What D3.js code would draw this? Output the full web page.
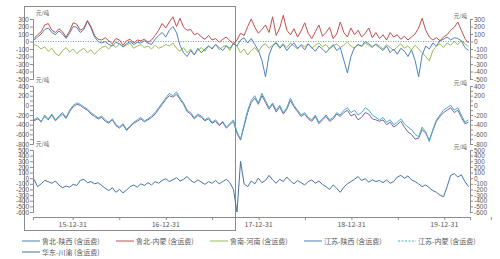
<!DOCTYPE html>
<html>
<head>
<meta charset="utf-8">
<script src="https://cdn.jsdelivr.net/npm/d3@7"></script>
<style>
body { margin: 0; background: #fff; }
svg { font-family: "Noto Sans CJK SC", "Noto Sans", sans-serif; }
</style>
</head>
<body>
<div id="chart"></div>
<script>
// categories: one point every two weeks
const startDate = new Date(2015, 7, 1);
const stepDays = 14;
const xTickLabels = ["15-12-31", "16-12-31", "17-12-31", "18-12-31", "19-12-31"];
const unitLabel = "元/吨";

// panel 1
const luBeiShaanxi = [20, 60, 100, 160, 180, 120, 90, 140, 100, 40,
    110, 200, 190, 120, 160, 270, 180, 60, 0, -20,
    0, -40, -60, -10, -30, -70, -30, 0, -40, -10,
    -20, 10, -20, -40, 30, 80, 120, 60, 150, 200,
    120, -50, -150, -200, -120, -180, -90, -150, -100, -60,
    -100, -40, -80, -120, -60, -90, -30, -60, 20, 50,
    -20, 40, -40, -120, -250, -470, -180, -60, -20, -90,
    -40, -120, -60, -20, -90, -50, -110, -30, -80, -130,
    -60, -100, -150, -90, -40, -120, -80, -250, -420, -200,
    -80, -40, -60, 0, -30, -70, -40, -80, -120, -60,
    -150, -100, -170, -90, -130, -200, -110, -250, -470, -180,
    -60, -100, -20, -60, 10, 30, 60, 20, 50, 40,
    10, -80, -120];
const luBeiNeimeng = [40, 90, 130, 220, 240, 150, 120, 170, 130, 60,
    140, 250, 230, 150, 180, 280, 200, 80, 30, 20,
    50, 10, -30, 40, 20, -50, 10, 30, -20, 20,
    10, 30, -10, 20, 80, 150, 240, 180, 260, 330,
    200, 310, 190, 150, 160, 90, 110, 60, 30, 80,
    20, 40, -10, 30, 60, 10, -30, 20, 110, 80,
    200, 300, 190, 110, 160, 220, 120, 330, 80, 180,
    350, 150, 90, 170, 60, 140, 250, 110, 40, 130,
    220, 70, 120, 190, 40, 100, 260, 120, 60, 180,
    90, 150, 60, 110, 180, 50, 120, 40, 90, 20,
    120, 60, 90, 30, 70, 20, 60, 100, 180, 310,
    150, 60, 20, 50, 10, 60, 90, 150, 190, 260,
    150, 40, -20];
const luNanHenan = [-40, -60, -100, -70, -130, -90, -160, -190, -120, -80,
    -140, -100, -160, -120, -90, -150, -110, -170, -120, -80,
    -60, -100, -40, -80, -30, -70, -50, -20, -90, -60,
    -40, -80, -60, -100, -50, -90, -70, -40, -60, -20,
    -90, -130, -80, -150, -100, -170, -120, -80, -130, -60,
    -90, -40, -110, -70, -50, -120, -20, -60, -150, -100,
    -180, -120, -80, -140, -60, -30, -90, -50, -10, -70,
    -30, -80, -20, -60, -100, -40, -70, -30, -90, -50,
    -20, -70, -40, -100, -60, -30, -80, -50, -10, -60,
    -90, -40, -70, -20, -50, -80, -30, -60, -100, -40,
    -80, -120, -70, -30, -90, -60, -110, -50, -100, -150,
    -200, -260, -120, -60, -30, -80, -20, -50, 0, -40,
    10, -30, -70];

// panel 2
const jiangsuShaanxi = [-320, -280, -330, -230, -300, -200, -320, -250, -180, -270,
    -130, -30, 20, 0, -60, -100, -180, -230, -280, -250,
    -330, -370, -300, -420, -470, -400, -520, -440, -370, -330,
    -280, -340, -300, -250, -180, -80, 20, 120, 200, 170,
    230, 120, 20, -130, -180, -280, -210, -250, -320, -280,
    -370, -330, -420, -350, -470, -400, -330, -580, -720, -430,
    -150, 60, 150, 20, 200, 60, -80, 20, -140, -30,
    -180, -80, 100, -30, -130, -230, -180, -280, -330, -230,
    -380, -300, -230, -330, -280, -180, -230, -150, -100, -220,
    -180, -300, -250, -150, -180, -280, -300, -330, -300, -400,
    -350, -450, -400, -330, -450, -550, -600, -700, -680, -500,
    -580, -720, -520, -330, -230, -150, -100, -50, -150, -100,
    -250, -380, -350];
const jiangsuNeimeng = [-300, -250, -350, -200, -280, -180, -300, -220, -150, -250,
    -100, 0, 50, 20, -30, -80, -150, -200, -260, -220,
    -300, -350, -280, -400, -450, -380, -500, -420, -350, -300,
    -250, -320, -280, -220, -150, -50, 50, 150, 250, 200,
    280, 150, 50, -100, -150, -250, -180, -220, -300, -250,
    -350, -300, -400, -330, -450, -380, -300, -550, -700, -400,
    -100, 100, 200, 50, 250, 100, -50, 50, -100, 0,
    -150, -50, 150, 0, -100, -200, -150, -250, -300, -200,
    -350, -280, -200, -300, -250, -150, -200, -100, -50, -150,
    -100, -200, -150, -50, -100, -200, -250, -300, -250, -350,
    -300, -400, -350, -280, -380, -450, -500, -600, -650, -450,
    -550, -750, -500, -300, -200, -100, -50, 0, -100, -50,
    -200, -350, -300];

// panel 3
const huadongChuanyu = [-20, -150, -100, -40, -60, -90, -50, -120, -170, -140,
    -160, -110, -130, -40, -20, -80, -60, -100, -80, -130,
    -180, -220, -170, -250, -200, -260, -210, -150, -120, -160,
    -100, -130, -80, -120, -60, -90, -40, -10, -60, -30,
    10, -50, -20, 30, -40, -80, -30, -70, -110, -60,
    -90, -40, -100, -60, -20, -80, -200, -600, 300, -100,
    -150, -50, -100, 0, -80, -40, 50, -30, -90, -20,
    -60, 20, -50, -100, -40, -80, -120, -60, -30, -90,
    -50, -110, -150, -200, -120, -180, -250, -160, -100, -60,
    -20, 30, -40, -10, -70, -30, -60, -40, -80, -30,
    -90, -60, 20, 50, 0, 40, -30, -60, -100, -150,
    -120, -170, -220, -250, -300, -330, -150, 50, 80, 20,
    60, -60, -150];

const panel1Ticks = [300, 200, 100, 0, -100, -200, -300, -400, -500];
const panel2Ticks = [400, 300, 200, 100, 0, -100, -200, -300, -400, -500, -600, -700, -800];
const panel2Labels = [400, 200, 0, -200, -400, -600, -800];
const panel3Ticks = [500, 400, 300, 200, 100, 0, -100, -200, -300, -400, -500, -600];

const legendNames = ["鲁北-陕西 (含运费)", "鲁北-内蒙 (含运费)", "鲁南-河南 (含运费)",
    "江苏-陕西 (含运费)", "江苏-内蒙 (含运费)", "华东-川渝 (含运费)"];

function init() {
    const w = 500, h = 259;
    const left = 33, right = 470;
    const axisColor = "#8c8c8c";
    const textColor = "#595959";

    const svg = d3.select("#chart").append("svg")
        .attr("width", w)
        .attr("height", h);

    const dates = luBeiShaanxi.map((v, i) => d3.timeDay.offset(startDate, i * stepDays));

    const x = d3.scaleTime()
        .domain([new Date(2015, 6, 28), new Date(2020, 3, 10)])
        .range([left, right]);

    // frame box round the first part
    svg.append("rect")
        .attr("x", 24.5).attr("y", 6.5)
        .attr("width", 211).attr("height", 224)
        .attr("fill", "none")
        .attr("stroke", axisColor)
        .attr("stroke-width", 1);

    const panels = [
        { domain: [-500, 300], range: [79, 19], ticks: panel1Ticks, labels: panel1Ticks,
          series: [
            { data: luNanHenan, color: "#9bbb59" },
            { data: luBeiShaanxi, color: "#4f81bd" },
            { data: luBeiNeimeng, color: "#c0504d" }
          ], zeroLine: true },
        { domain: [-800, 400], range: [144, 86], ticks: panel2Ticks, labels: panel2Labels,
          series: [
            { data: jiangsuShaanxi, color: "#8064a2" },
            { data: jiangsuNeimeng, color: "#4bacc6" }
          ] },
        { domain: [-600, 500], range: [212, 150], ticks: panel3Ticks, labels: panel3Ticks,
          series: [
            { data: huadongChuanyu, color: "#4672a0" }
          ] }
    ];

    panels.forEach(function (p) {
        const y = d3.scaleLinear().domain(p.domain).range(p.range);
        const fmt = d => p.labels.indexOf(d) >= 0 ? d : "";

        const gl = svg.append("g")
            .attr("transform", "translate(" + left + ",0)")
            .call(d3.axisLeft(y).tickValues(p.ticks).tickSize(3).tickPadding(1).tickFormat(fmt));
        const gr = svg.append("g")
            .attr("transform", "translate(" + right + ",0)")
            .call(d3.axisRight(y).tickValues(p.ticks).tickSize(3).tickPadding(1).tickFormat(fmt));
        [gl, gr].forEach(function (g) {
            g.select(".domain").attr("stroke", axisColor);
            g.selectAll(".tick line").attr("stroke", axisColor);
            g.selectAll(".tick text").attr("fill", textColor).style("font-size", "6.5px");
        });

        svg.append("text")
            .attr("x", left + 3).attr("y", p.range[1] - 4)
            .attr("fill", textColor).style("font-size", "5.5px")
            .text(unitLabel);
        svg.append("text")
            .attr("x", right - 3).attr("y", p.range[1] - 1)
            .attr("text-anchor", "end")
            .attr("fill", textColor).style("font-size", "5.5px")
            .text(unitLabel);

        if (p.zeroLine) {
            svg.append("line")
                .attr("x1", left).attr("x2", right)
                .attr("y1", y(0)).attr("y2", y(0))
                .attr("stroke", "#4f81bd")
                .attr("stroke-width", 0.8)
                .attr("stroke-dasharray", "1,1.5");
        }

        const line = d3.line()
            .x((d, i) => x(dates[i]))
            .y(d => y(d));

        p.series.forEach(function (s) {
            svg.append("path")
                .datum(s.data)
                .attr("d", line)
                .attr("fill", "none")
                .attr("stroke", s.color)
                .attr("stroke-width", 1)
                .attr("stroke-linejoin", "round");
        });
    });

    // x axis
    const tickDates = xTickLabels.map(s => d3.timeParse("%y-%m-%d")(s));
    const halfYears = tickDates.map(d => d3.timeMonth.offset(d, 6)).concat(tickDates);
    const gx = svg.append("g")
        .attr("transform", "translate(0,217)")
        .call(d3.axisBottom(x).tickValues(halfYears).tickSize(3).tickFormat(""));
    gx.select(".domain").attr("stroke", axisColor);
    gx.selectAll(".tick line").attr("stroke", axisColor);

    svg.selectAll(".xlab")
        .data(tickDates)
        .enter().append("text")
        .attr("class", "xlab")
        .attr("x", d => x(d))
        .attr("y", 227)
        .attr("text-anchor", "middle")
        .attr("fill", textColor)
        .style("font-size", "7px")
        .text((d, i) => xTickLabels[i]);

    // legend
    const legendColors = ["#4f81bd", "#c0504d", "#9bbb59", "#4f81bd", "#4bacc6", "#4672a0"];
    const legendDash = [null, null, null, null, "2,1.5", null];
    const items = svg.selectAll(".leg")
        .data(legendNames)
        .enter().append("g")
        .attr("class", "leg")
        .attr("transform", (d, i) => i < 5
            ? "translate(" + (22 + i * 94) + ",241)"
            : "translate(22,252)");
    items.append("line")
        .attr("x1", 0).attr("x2", 18)
        .attr("stroke", (d, i) => legendColors[i])
        .attr("stroke-width", 1)
        .attr("stroke-dasharray", (d, i) => legendDash[i]);
    items.append("text")
        .attr("x", 20).attr("y", 2.5)
        .attr("fill", textColor)
        .style("font-size", "7px")
        .text(d => d);
}

window.addEventListener("load", init);
</script>
</body>
</html>
